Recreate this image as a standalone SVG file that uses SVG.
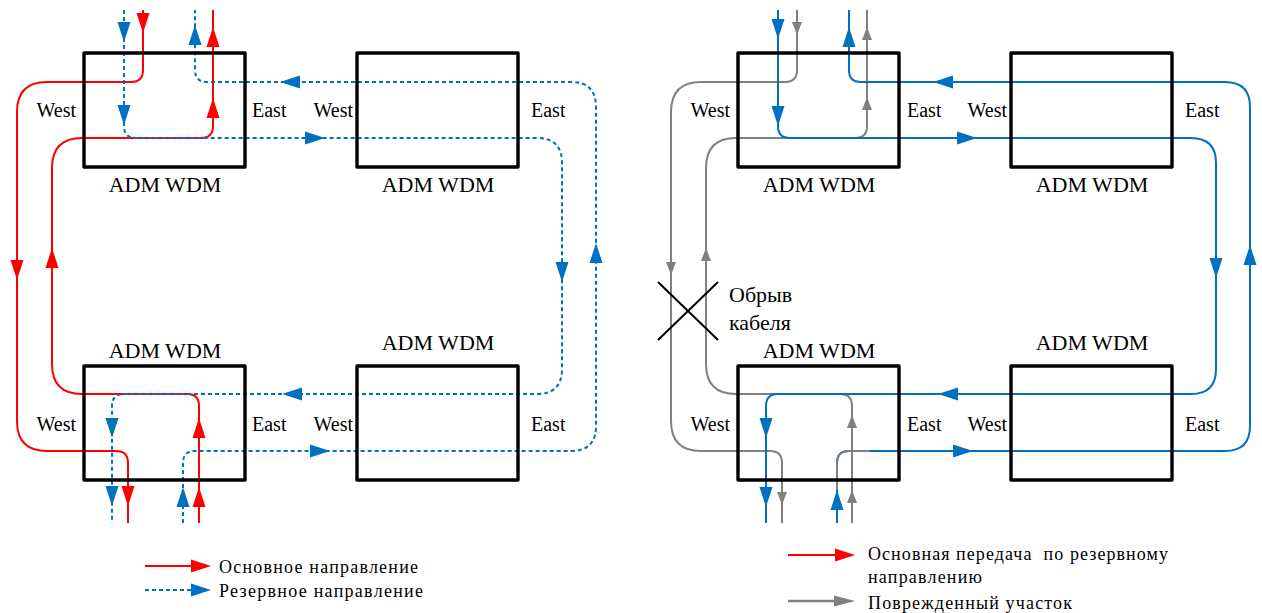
<svg xmlns="http://www.w3.org/2000/svg" xmlns:xlink="http://www.w3.org/1999/xlink" width="1262" height="613" viewBox="0 0 1262 613">
<style>
.box{fill:none;stroke:#000;stroke-width:3.4;stroke-linejoin:round}
.lbl{font-family:"Liberation Serif","Times New Roman",serif;font-size:20px;fill:#000}
.ttl{font-family:"Liberation Serif","Times New Roman",serif;font-size:22px;fill:#000}
.leg{font-family:"Liberation Serif","Times New Roman",serif;font-size:18px;fill:#000;white-space:pre}
.red{fill:none;stroke:#FF0000;stroke-width:2}
.bd{fill:none;stroke:#0070C0;stroke-width:2;stroke-dasharray:4 3}
.bs{fill:none;stroke:#0070C0;stroke-width:2}
.gr{fill:none;stroke:#808080;stroke-width:2}
.fr{fill:#FF0000}
.fb{fill:#0070C0}
.fg{fill:#808080}
.cut{stroke:#000;stroke-width:2}
</style>
<defs>
<path id="ah" d="M0,0 L-20,-6.5 L-20,6.5 Z"/>
<path id="ahs" d="M0,0 L-13,-5 L-13,5 Z"/>
<path id="ahg" d="M0,0 L-21,-5.5 L-21,5.5 Z"/>
</defs>

<g id="connectors">
  <!-- left diagram -->
  <g id="left-lines">
    <path class="red" d="M143,10 V70 Q143,82 131,82 H47 Q17,82 17,112 V421 Q17,451 47,451 H116 Q128,451 128,463 V523"/>
    <path class="red" d="M199,523 V406 Q199,394 187,394 H82 Q52,394 52,364 V168 Q52,138 82,138 H201 Q213,138 213,126 V10"/>
    <path class="bd" d="M124,10 V126 Q124,138 136,138 H537 Q562,138 562,163 V369 Q562,394 537,394 H124 Q112,394 112,406 V523"/>
    <path class="bd" d="M183,523 V463 Q183,451 195,451 H571 Q596,451 596,426 V107 Q596,82 571,82 H207 Q195,82 195,70 V10"/>
    <use href="#ah" class="fr" transform="translate(143,33) rotate(90)"/>
    <use href="#ah" class="fr" transform="translate(17,280) rotate(90)"/>
    <use href="#ah" class="fr" transform="translate(128,506) rotate(90)"/>
    <use href="#ah" class="fr" transform="translate(199,487) rotate(-90)"/>
    <use href="#ah" class="fr" transform="translate(199,418) rotate(-90)"/>
    <use href="#ah" class="fr" transform="translate(52,248) rotate(-90)"/>
    <use href="#ah" class="fr" transform="translate(213,98) rotate(-90)"/>
    <use href="#ah" class="fr" transform="translate(213,27) rotate(-90)"/>
    <use href="#ah" class="fb" transform="translate(124,42) rotate(90)"/>
    <use href="#ah" class="fb" transform="translate(124,125) rotate(90)"/>
    <use href="#ah" class="fb" transform="translate(325,138)"/>
    <use href="#ah" class="fb" transform="translate(562,282) rotate(90)"/>
    <use href="#ah" class="fb" transform="translate(282,394) rotate(180)"/>
    <use href="#ah" class="fb" transform="translate(112,438) rotate(90)"/>
    <use href="#ah" class="fb" transform="translate(112,506) rotate(90)"/>
    <use href="#ah" class="fb" transform="translate(183,487) rotate(-90)"/>
    <use href="#ah" class="fb" transform="translate(330,451)"/>
    <use href="#ah" class="fb" transform="translate(596,243) rotate(-90)"/>
    <use href="#ah" class="fb" transform="translate(280,82) rotate(180)"/>
    <use href="#ah" class="fb" transform="translate(195,25) rotate(-90)"/>
  </g>
  <!-- right diagram -->
  <g id="right-lines">
    <path class="gr" d="M797,10 V70 Q797,82 785,82 H701 Q671,82 671,112 V421 Q671,451 701,451 H770 Q782,451 782,463 V523"/>
    <path class="gr" d="M852,523 V406 Q852,394 840,394 H736 Q706,394 706,364 V168 Q706,138 736,138 H855 Q867,138 867,126 V10"/>
    <path class="bs" d="M778,10 V126 Q778,138 790,138 H1191 Q1216,138 1216,163 V369 Q1216,394 1191,394 H778 Q766,394 766,406 V523"/>
    <path class="bs" d="M837,523 V463 Q837,451 849,451 H1225 Q1250,451 1250,426 V107 Q1250,82 1225,82 H861 Q849,82 849,70 V10"/>
    <path class="gr" d="M837,490 V463 Q837,451 849,451 H870"/>
    <use href="#ahs" class="fg" transform="translate(797,35) rotate(90)"/>
    <use href="#ahs" class="fg" transform="translate(671,275) rotate(90)"/>
    <use href="#ahs" class="fg" transform="translate(782,505) rotate(90)"/>
    <use href="#ahs" class="fg" transform="translate(852,490) rotate(-90)"/>
    <use href="#ahs" class="fg" transform="translate(852,415) rotate(-90)"/>
    <use href="#ahs" class="fg" transform="translate(706,248) rotate(-90)"/>
    <use href="#ahs" class="fg" transform="translate(867,97) rotate(-90)"/>
    <use href="#ahs" class="fg" transform="translate(867,27) rotate(-90)"/>
    <use href="#ah" class="fb" transform="translate(778,39) rotate(90)"/>
    <use href="#ah" class="fb" transform="translate(778,126) rotate(90)"/>
    <use href="#ah" class="fb" transform="translate(977,138)"/>
    <use href="#ah" class="fb" transform="translate(1216,278) rotate(90)"/>
    <use href="#ah" class="fb" transform="translate(938,394) rotate(180)"/>
    <use href="#ah" class="fb" transform="translate(766,438) rotate(90)"/>
    <use href="#ah" class="fb" transform="translate(766,507) rotate(90)"/>
    <use href="#ah" class="fb" transform="translate(837,490) rotate(-90)"/>
    <use href="#ah" class="fb" transform="translate(973,451)"/>
    <use href="#ah" class="fb" transform="translate(1250,245) rotate(-90)"/>
    <use href="#ah" class="fb" transform="translate(933,82) rotate(180)"/>
    <use href="#ah" class="fb" transform="translate(849,27) rotate(-90)"/>
  </g>
</g>

<g id="L-top-left">
  <rect class="box" x="84" y="53" width="161" height="114"/>
  <text class="lbl" x="76" y="117" text-anchor="end">West</text>
  <text class="lbl" x="252" y="117">East</text>
  <text class="ttl" x="165" y="192" text-anchor="middle">ADM WDM</text>
</g>
<g id="L-top-right">
  <rect class="box" x="357" y="53" width="161" height="114"/>
  <text class="lbl" x="353" y="117" text-anchor="end">West</text>
  <text class="lbl" x="531" y="117">East</text>
  <text class="ttl" x="438" y="192" text-anchor="middle">ADM WDM</text>
</g>
<g id="L-bottom-left">
  <rect class="box" x="84" y="366" width="161" height="114"/>
  <text class="lbl" x="76" y="431" text-anchor="end">West</text>
  <text class="lbl" x="252" y="431">East</text>
  <text class="ttl" x="165" y="358" text-anchor="middle">ADM WDM</text>
</g>
<g id="L-bottom-right">
  <rect class="box" x="357" y="366" width="161" height="114"/>
  <text class="lbl" x="353" y="431" text-anchor="end">West</text>
  <text class="lbl" x="531" y="431">East</text>
  <text class="ttl" x="438" y="350" text-anchor="middle">ADM WDM</text>
</g>

<g id="R-top-left">
  <rect class="box" x="738" y="53" width="161" height="114"/>
  <text class="lbl" x="730" y="117" text-anchor="end">West</text>
  <text class="lbl" x="907" y="117">East</text>
  <text class="ttl" x="819" y="192" text-anchor="middle">ADM WDM</text>
</g>
<g id="R-top-right">
  <rect class="box" x="1011" y="53" width="161" height="114"/>
  <text class="lbl" x="1007" y="117" text-anchor="end">West</text>
  <text class="lbl" x="1185" y="117">East</text>
  <text class="ttl" x="1092" y="192" text-anchor="middle">ADM WDM</text>
</g>
<g id="R-bottom-left">
  <rect class="box" x="738" y="366" width="161" height="114"/>
  <text class="lbl" x="730" y="431" text-anchor="end">West</text>
  <text class="lbl" x="907" y="431">East</text>
  <text class="ttl" x="819" y="358" text-anchor="middle">ADM WDM</text>
</g>
<g id="R-bottom-right">
  <rect class="box" x="1011" y="366" width="161" height="114"/>
  <text class="lbl" x="1007" y="431" text-anchor="end">West</text>
  <text class="lbl" x="1185" y="431">East</text>
  <text class="ttl" x="1092" y="350" text-anchor="middle">ADM WDM</text>
</g>

<g id="cable-break">
  <line class="cut" x1="658" y1="282" x2="718" y2="340"/>
  <line class="cut" x1="718" y1="282" x2="658" y2="340"/>
  <text class="ttl" x="729" y="302">Обрыв</text>
  <text class="ttl" x="729" y="330">кабеля</text>
</g>

<g id="legend-left">
  <line class="red" x1="145" y1="566" x2="192" y2="566"/>
  <use href="#ah" class="fr" transform="translate(211,566)"/>
  <text class="leg" x="219" y="573" textLength="199" lengthAdjust="spacing">Основное направление</text>
  <line class="bd" x1="145" y1="590" x2="192" y2="590"/>
  <use href="#ah" class="fb" transform="translate(211,590)"/>
  <text class="leg" x="219" y="597" textLength="204" lengthAdjust="spacing">Резервное направление</text>
</g>
<g id="legend-right">
  <line class="red" x1="788" y1="555" x2="836" y2="555"/>
  <use href="#ah" class="fr" transform="translate(855,555)"/>
  <text class="leg" x="868" y="560" textLength="300" lengthAdjust="spacing">Основная передача  по резервному</text>
  <text class="leg" x="868" y="583" textLength="114" lengthAdjust="spacing">направлению</text>
  <line class="gr" style="stroke-width:2.5" x1="788" y1="601" x2="836" y2="601"/>
  <use href="#ahg" class="fg" transform="translate(855,601)"/>
  <text class="leg" x="868" y="609" textLength="204" lengthAdjust="spacing">Поврежденный участок</text>
</g>
</svg>
